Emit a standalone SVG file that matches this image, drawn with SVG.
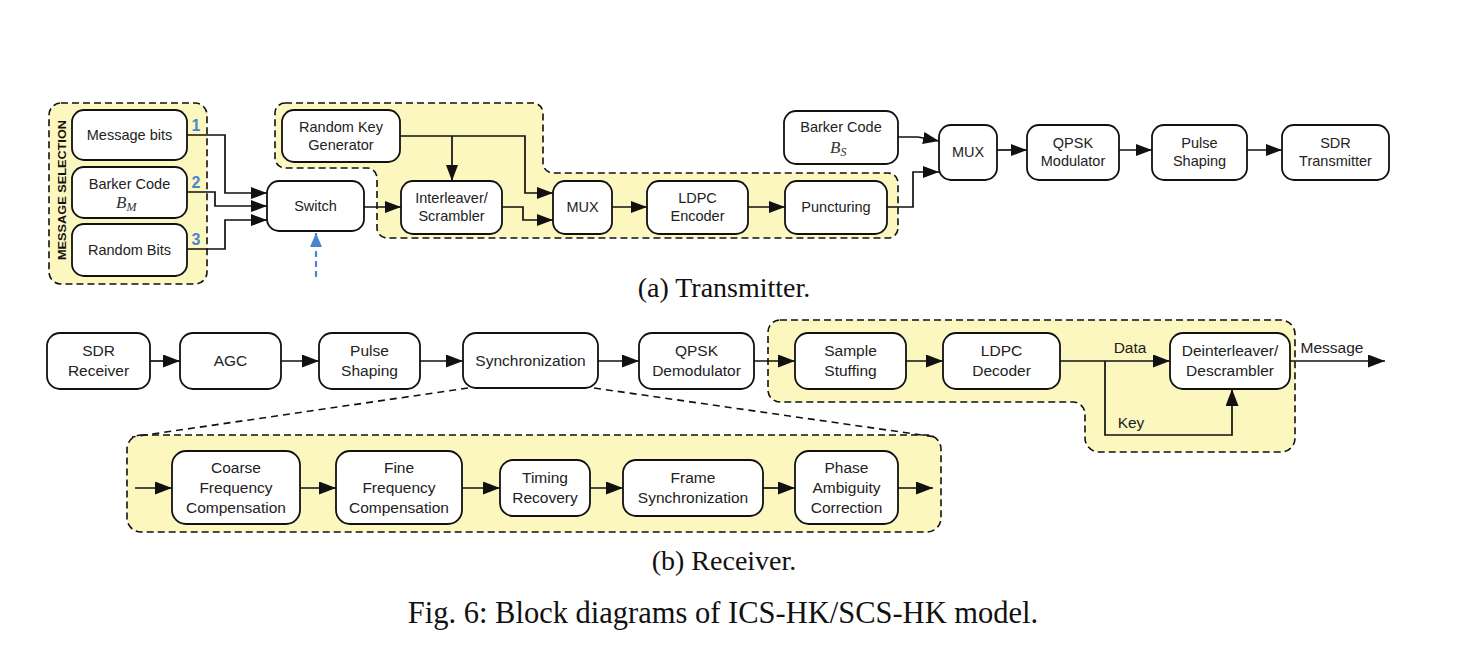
<svg xmlns="http://www.w3.org/2000/svg" width="1458" height="660" viewBox="0 0 1458 660">
<style>
.bg{fill:#fff}
.box{fill:#fff;stroke:#111;stroke-width:1.8}
.region{fill:#fcf7bf;stroke:#111;stroke-width:1.6;stroke-dasharray:7 4}
.ln{fill:none;stroke:#111;stroke-width:1.7}
.dash{fill:none;stroke:#111;stroke-width:1.6;stroke-dasharray:7 5}
.blue{fill:none;stroke:#4a86cf;stroke-width:2.2;stroke-dasharray:6 4}
.t{font-family:"Liberation Sans",Arial,Helvetica,sans-serif;font-size:14.5px;fill:#222;text-anchor:middle}
.r{font-size:15.5px}
.m{font-family:"Liberation Serif","Times New Roman",serif;font-style:italic;font-size:17px;fill:#333}
.sub{font-size:12px}
.num{font-family:"Liberation Sans",Arial,sans-serif;font-weight:bold;font-size:16px;fill:#4a86cf;text-anchor:middle}
.vt{font-family:"Liberation Sans",Arial,sans-serif;font-weight:bold;font-size:11.5px;fill:#111;text-anchor:middle}
.cap{font-family:"Liberation Serif","Times New Roman",serif;fill:#111;text-anchor:middle}
</style>
<defs>
<marker id="ah" viewBox="0 0 17 13" markerWidth="17" markerHeight="13" refX="17" refY="6.5" orient="auto" markerUnits="userSpaceOnUse"><path d="M0,0 L17,6.5 L0,13 z" fill="#111"/></marker>
<marker id="ahs" viewBox="0 0 16 12" markerWidth="16" markerHeight="12" refX="16" refY="6" orient="auto" markerUnits="userSpaceOnUse"><path d="M0,0 L16,6 L0,12 z" fill="#111"/></marker>
<marker id="ahb" viewBox="0 0 14 12" markerWidth="14" markerHeight="12" refX="14" refY="6" orient="auto" markerUnits="userSpaceOnUse"><path d="M0,0 L14,6 L0,12 z" fill="#4a86cf"/></marker>
</defs>
<rect class="bg" x="0" y="0" width="1458" height="660"/>

<!-- regions -->
<g id="regions">
<rect id="msg-selection" class="region" x="49" y="103" width="158" height="181" rx="12"/>
<path id="tx-secure" class="region" d="M285,103 H533 A10,10 0 0 1 543,113 V163 A10,10 0 0 0 553,173 H888 A10,10 0 0 1 898,183 V228 A10,10 0 0 1 888,238 H387 A10,10 0 0 1 377,228 V178 A10,10 0 0 0 367,168 H285 A10,10 0 0 1 275,158 V113 A10,10 0 0 1 285,103 Z"/>
<path id="rx-secure" class="region" d="M780,320 H1281 A14,14 0 0 1 1295,334 V438 A14,14 0 0 1 1281,452 H1099 A14,14 0 0 1 1085,438 V414 A12,12 0 0 0 1073,402 H780 A12,12 0 0 1 768,390 V332 A12,12 0 0 1 780,320 Z"/>
<rect id="sync-detail" class="region" x="127" y="435" width="814" height="97" rx="14"/>
<text class="vt" transform="translate(66,190) rotate(-90)" textLength="140" lengthAdjust="spacingAndGlyphs">MESSAGE SELECTION</text>
</g>

<!-- connectors -->
<g id="connectors">
<polyline class="ln" points="187,135 225,135 225,193 267,193" marker-end="url(#ahs)"/>
<polyline class="ln" points="187,192 215,192 215,206 267,206" marker-end="url(#ahs)"/>
<polyline class="ln" points="187,249 225,249 225,220 267,220" marker-end="url(#ahs)"/>
<line class="blue" x1="316" y1="277" x2="316" y2="233" marker-end="url(#ahb)"/>
<line class="ln" x1="364" y1="207" x2="401" y2="207" marker-end="url(#ahs)"/>
<polyline class="ln" points="400,136 525,136 525,193 553,193" marker-end="url(#ahs)"/>
<line class="ln" x1="452" y1="136" x2="452" y2="181" marker-end="url(#ahs)"/>
<polyline class="ln" points="502,207 523,207 523,220 553,220" marker-end="url(#ahs)"/>
<line class="ln" x1="612" y1="207" x2="647" y2="207" marker-end="url(#ahs)"/>
<line class="ln" x1="748" y1="207" x2="785" y2="207" marker-end="url(#ahs)"/>
<polyline class="ln" points="887,207 913,207 913,172 939,172" marker-end="url(#ahs)"/>
<polyline class="ln" points="898,137 918,137 939,141" marker-end="url(#ahs)"/>
<line class="ln" x1="997" y1="150" x2="1027" y2="150" marker-end="url(#ahs)"/>
<line class="ln" x1="1119" y1="150" x2="1152" y2="150" marker-end="url(#ahs)"/>
<line class="ln" x1="1247" y1="150" x2="1282" y2="150" marker-end="url(#ahs)"/>

<line class="ln" x1="150" y1="361" x2="180" y2="361" marker-end="url(#ah)"/>
<line class="ln" x1="281" y1="361" x2="319" y2="361" marker-end="url(#ah)"/>
<line class="ln" x1="420" y1="361" x2="463" y2="361" marker-end="url(#ah)"/>
<line class="ln" x1="598" y1="361" x2="639" y2="361" marker-end="url(#ah)"/>
<line class="ln" x1="754" y1="361" x2="795" y2="361" marker-end="url(#ah)"/>
<line class="ln" x1="906" y1="361" x2="943" y2="361" marker-end="url(#ah)"/>
<line class="ln" x1="1060" y1="361" x2="1170" y2="361" marker-end="url(#ah)"/>
<polyline class="ln" points="1105,361 1105,435 1232,435 1232,389" marker-end="url(#ah)"/>
<line class="ln" x1="1290" y1="361" x2="1385" y2="361" marker-end="url(#ah)"/>
<text class="t r" x="1130" y="353">Data</text>
<text class="t r" x="1131" y="428">Key</text>
<text class="t r" x="1332" y="353">Message</text>

<line class="dash" x1="468" y1="388" x2="132" y2="437"/>
<line class="dash" x1="594" y1="388" x2="936" y2="437"/>

<line class="ln" x1="135" y1="488" x2="172" y2="488" marker-end="url(#ah)"/>
<line class="ln" x1="300" y1="488" x2="336" y2="488" marker-end="url(#ah)"/>
<line class="ln" x1="462" y1="488" x2="500" y2="488" marker-end="url(#ah)"/>
<line class="ln" x1="590" y1="488" x2="623" y2="488" marker-end="url(#ah)"/>
<line class="ln" x1="763" y1="488" x2="795" y2="488" marker-end="url(#ah)"/>
<line class="ln" x1="898" y1="488" x2="933" y2="488" marker-end="url(#ah)"/>
</g>

<!-- transmitter nodes -->
<g id="n-message-bits"><rect class="box" x="72" y="110" width="115" height="50" rx="12"/><text class="t" x="129.5" y="140">Message bits</text></g>
<g id="n-barker-m"><rect class="box" x="72" y="167" width="115" height="51" rx="12"/><text class="t" x="129.5" y="189">Barker Code</text><text class="m" x="116" y="208">B<tspan class="sub" dy="3">M</tspan></text></g>
<g id="n-random-bits"><rect class="box" x="72" y="224" width="115" height="52" rx="12"/><text class="t" x="129.5" y="255">Random Bits</text></g>
<text class="num" x="196" y="131">1</text>
<text class="num" x="196" y="188">2</text>
<text class="num" x="196" y="245">3</text>
<g id="n-switch"><rect class="box" x="267" y="181" width="97" height="50" rx="12"/><text class="t" x="315.5" y="211">Switch</text></g>
<g id="n-rkg"><rect class="box" x="282" y="110" width="118" height="52" rx="12"/><text class="t" x="341" y="132">Random Key</text><text class="t" x="341" y="150">Generator</text></g>
<g id="n-interleaver"><rect class="box" x="401" y="181" width="101" height="53" rx="12"/><text class="t" x="451.5" y="203">Interleaver/</text><text class="t" x="451.5" y="221">Scrambler</text></g>
<g id="n-mux1"><rect class="box" x="553" y="181" width="59" height="53" rx="12"/><text class="t" x="582.5" y="212">MUX</text></g>
<g id="n-ldpc-enc"><rect class="box" x="647" y="181" width="101" height="53" rx="12"/><text class="t" x="697.5" y="203">LDPC</text><text class="t" x="697.5" y="221">Encoder</text></g>
<g id="n-puncturing"><rect class="box" x="785" y="181" width="102" height="53" rx="12"/><text class="t" x="836" y="212">Puncturing</text></g>
<g id="n-barker-s"><rect class="box" x="784" y="111" width="114" height="53" rx="12"/><text class="t" x="841" y="132">Barker Code</text><text class="m" x="830" y="153">B<tspan class="sub" dy="3">S</tspan></text></g>
<g id="n-mux2"><rect class="box" x="939" y="125" width="58" height="55" rx="12"/><text class="t" x="968" y="157">MUX</text></g>
<g id="n-qpsk-mod"><rect class="box" x="1027" y="125" width="92" height="55" rx="12"/><text class="t" x="1073" y="148">QPSK</text><text class="t" x="1073" y="166">Modulator</text></g>
<g id="n-pulse-tx"><rect class="box" x="1152" y="125" width="95" height="55" rx="12"/><text class="t" x="1199.5" y="148">Pulse</text><text class="t" x="1199.5" y="166">Shaping</text></g>
<g id="n-sdr-tx"><rect class="box" x="1282" y="125" width="107" height="55" rx="12"/><text class="t" x="1335.5" y="148">SDR</text><text class="t" x="1335.5" y="166">Transmitter</text></g>

<!-- receiver nodes -->
<g id="n-sdr-rx"><rect class="box" x="47" y="333" width="103" height="56" rx="13"/><text class="t r" x="98.5" y="356">SDR</text><text class="t r" x="98.5" y="376">Receiver</text></g>
<g id="n-agc"><rect class="box" x="180" y="333" width="101" height="56" rx="13"/><text class="t r" x="230.5" y="366">AGC</text></g>
<g id="n-pulse-rx"><rect class="box" x="319" y="333" width="101" height="56" rx="13"/><text class="t r" x="369.5" y="356">Pulse</text><text class="t r" x="369.5" y="376">Shaping</text></g>
<g id="n-sync"><rect class="box" x="463" y="333" width="135" height="55" rx="13"/><text class="t r" x="530.5" y="366">Synchronization</text></g>
<g id="n-qpsk-demod"><rect class="box" x="639" y="333" width="115" height="56" rx="13"/><text class="t r" x="696.5" y="356">QPSK</text><text class="t r" x="696.5" y="376">Demodulator</text></g>
<g id="n-sample"><rect class="box" x="795" y="333" width="111" height="56" rx="13"/><text class="t r" x="850.5" y="356">Sample</text><text class="t r" x="850.5" y="376">Stuffing</text></g>
<g id="n-ldpc-dec"><rect class="box" x="943" y="333" width="117" height="56" rx="13"/><text class="t r" x="1001.5" y="356">LDPC</text><text class="t r" x="1001.5" y="376">Decoder</text></g>
<g id="n-deint"><rect class="box" x="1170" y="333" width="120" height="56" rx="13"/><text class="t r" x="1230" y="356">Deinterleaver/</text><text class="t r" x="1230" y="376">Descrambler</text></g>

<!-- synchronization detail -->
<g id="n-coarse"><rect class="box" x="172" y="451" width="128" height="73" rx="14"/><text class="t r" x="236" y="473">Coarse</text><text class="t r" x="236" y="493">Frequency</text><text class="t r" x="236" y="513">Compensation</text></g>
<g id="n-fine"><rect class="box" x="336" y="451" width="126" height="73" rx="14"/><text class="t r" x="399" y="473">Fine</text><text class="t r" x="399" y="493">Frequency</text><text class="t r" x="399" y="513">Compensation</text></g>
<g id="n-timing"><rect class="box" x="500" y="460" width="90" height="56" rx="13"/><text class="t r" x="545" y="483">Timing</text><text class="t r" x="545" y="503">Recovery</text></g>
<g id="n-frame"><rect class="box" x="623" y="460" width="140" height="56" rx="13"/><text class="t r" x="693" y="483">Frame</text><text class="t r" x="693" y="503">Synchronization</text></g>
<g id="n-phase"><rect class="box" x="795" y="451" width="103" height="73" rx="14"/><text class="t r" x="846.5" y="473">Phase</text><text class="t r" x="846.5" y="493">Ambiguity</text><text class="t r" x="846.5" y="513">Correction</text></g>

<!-- captions -->
<text class="cap" x="724" y="297" font-size="28">(a) Transmitter.</text>
<text class="cap" x="724" y="570" font-size="28">(b) Receiver.</text>
<text class="cap" x="723" y="623" font-size="30.5">Fig. 6: Block diagrams of ICS-HK/SCS-HK model.</text>
</svg>
